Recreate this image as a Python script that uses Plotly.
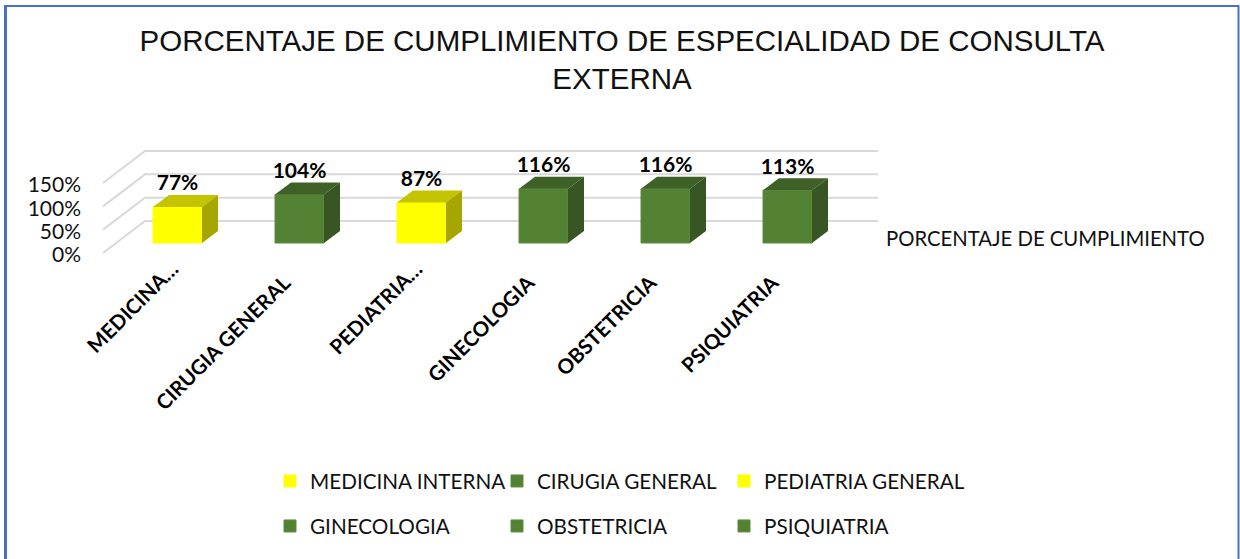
import plotly.graph_objects as go

categories = ["MEDICINA INTERNA", "CIRUGIA GENERAL", "PEDIATRIA GENERAL", "GINECOLOGIA", "OBSTETRICIA", "PSIQUIATRIA"]
tick_labels = ["MEDICINA…", "CIRUGIA GENERAL", "PEDIATRIA…", "GINECOLOGIA", "OBSTETRICIA", "PSIQUIATRIA"]
values = [77, 104, 87, 116, 116, 113]
front_colors = ["#FFFF00", "#548235", "#FFFF00", "#548235", "#548235", "#548235"]
top_colors = ["#C4C400", "#3F6128", "#C4C400", "#3F6128", "#3F6128", "#3F6128"]
side_colors = ["#A6A600", "#375623", "#A6A600", "#375623", "#375623", "#375623"]
edge_colors = ["#FFFF00", "#5B8C3A", "#FFFF00", "#5B8C3A", "#5B8C3A", "#5B8C3A"]
grid_values = [0, 50, 100, 150]
grid_labels = ["0%", "50%", "100%", "150%"]
value_lbl = [f"{v}%" for v in values]
truncated = [0, 2]                # ticks whose label was shortened with an ellipsis
full = [1, 3, 4, 5]

W, H = 1240, 559
# plot-area pixel frame
PL, PR, PT, PB = 82, 890, 130, 262
SLOT = 122.0            # px per category
PXV = 70 / 150          # px per percent
X0_PX = 177.5           # pixel of category 0
Y0_PX = 243.0           # pixel of 0 %
xr = [(PL - X0_PX) / SLOT, (PR - X0_PX) / SLOT]
yr = [(Y0_PX - PB) / PXV, (Y0_PX - PT) / PXV]
bar_w = 49 / SLOT
ddx, ddy = 16 / SLOT, 12 / PXV           # bar depth
wall_left = (103 - X0_PX) / SLOT
wall_back = (145 - X0_PX) / SLOT
wall_right = (878 - X0_PX) / SLOT
front_y = -10 / PXV
back_y = 22 / PXV

fig = go.Figure()


def px_x(p):
    return (p - PL) / (PR - PL)


def px_y(p):
    return (PB - p) / (PB - PT)


shapes = []
for g in grid_values:
    path = f"M {wall_left},{g + front_y} L {wall_back},{g + back_y} L {wall_right},{g + back_y}"
    shapes.append(dict(type="path", path=path, xref="x", yref="y", layer="below",
                       line=dict(color="#D9D9D9", width=2)))
# outer frame: left, top, right edges
for x0, y0, x1, y1, lw in [(5.5, 5, 5.5, 559, 3), (4, 6, 1239, 6, 2), (1238.5, 5, 1238.5, 559, 2)]:
    shapes.append(dict(type="line", xref="paper", yref="paper", x0=px_x(x0), x1=px_x(x1),
                       y0=px_y(y0), y1=px_y(y1), layer="below", line=dict(color="#4472C4", width=lw)))

legend_ids = ["legend", "legend2", "legend3", "legend4", "legend5", "legend6"]
legend_x = [270, 497, 724, 270, 497, 724]
legend_y = [481, 481, 481, 526, 526, 526]
for i, (c, v) in enumerate(zip(categories, values)):
    fig.add_trace(go.Bar(x=[i], y=[v], width=bar_w, name=c, legend=legend_ids[i],
                         marker=dict(color=front_colors[i], line=dict(color=edge_colors[i], width=1)),
                         showlegend=True, hoverinfo="name+y"))

for i, v in enumerate(values):
    l, r = i - bar_w / 2, i + bar_w / 2
    fig.add_trace(go.Scatter(x=[l, r, r + ddx, l + ddx, l], y=[v, v, v + ddy, v + ddy, v],
                             fill="toself", fillcolor=top_colors[i], mode="lines", line=dict(width=0),
                             showlegend=False, hoverinfo="skip"))
    fig.add_trace(go.Scatter(x=[r, r + ddx, r + ddx, r, r], y=[0, ddy, v + ddy, v, 0],
                             fill="toself", fillcolor=side_colors[i], mode="lines", line=dict(width=0),
                             showlegend=False, hoverinfo="skip"))

# value labels live on the second x axis, which carries the full-length tick labels
fig.add_trace(go.Scatter(x=list(range(len(values))), y=[v + ddy - 1.3 for v in values], mode="text",
                         xaxis="x2", yaxis="y",
                         text=value_lbl, textposition="top center",
                         textfont=dict(family="Lato, Carlito, sans-serif", size=21, color="#000000", weight="bold"),
                         showlegend=False, hoverinfo="skip"))

lf = dict(family="Lato, Carlito, sans-serif", size=20.7, color="#111111")
tf = dict(family="Lato, Carlito, sans-serif", size=20.5, color="#000000", weight="bold")
layout_legends = {
    lid: dict(orientation="h", x=lx / W, xref="container", y=1 - ly / H, yref="container", yanchor="middle",
              font=lf, bgcolor="rgba(0,0,0,0)")
    for lid, lx, ly in zip(legend_ids, legend_x, legend_y)
}
fig.update_layout(
    width=W, height=H, autosize=False,
    margin=dict(l=PL, r=W - PR, t=PT, b=H - PB),
    paper_bgcolor="white", plot_bgcolor="rgba(0,0,0,0)",
    barmode="overlay",
    shapes=shapes,
    title=dict(text="PORCENTAJE DE CUMPLIMIENTO DE ESPECIALIDAD DE CONSULTA<br>EXTERNA",
               x=622 / W, xanchor="center", y=1 - 51 / H, yanchor="middle",
               font=dict(family="Liberation Sans, Arial, sans-serif", size=29.5, color="#111111")),
    xaxis=dict(range=xr, tickmode="array", tickvals=truncated, ticktext=[tick_labels[i] for i in truncated],
               tickangle=-45, showgrid=False, zeroline=False, showline=False, ticks="",
               ticklabelshift=-5, ticklabelstandoff=-10, tickfont=tf),
    xaxis2=dict(range=xr, overlaying="x", side="bottom", anchor="y", tickmode="array", tickvals=full,
                ticktext=[tick_labels[i] for i in full], tickangle=-45, showgrid=False, zeroline=False,
                showline=False, ticks="", ticklabelshift=-15, ticklabelstandoff=4, tickfont=tf),
    yaxis=dict(range=yr, tickmode="array", tickvals=[g + front_y for g in grid_values], ticktext=grid_labels,
               showgrid=False, zeroline=False, showline=False, ticks="", ticklabelshift=2,
               tickfont=dict(family="Lato, Carlito, sans-serif", size=21, color="#111111")),
    annotations=[dict(text="PORCENTAJE DE CUMPLIMIENTO", xref="paper", yref="paper", showarrow=False,
                      x=px_x(884), y=px_y(238), xanchor="left", yanchor="middle",
                      font=dict(family="Lato, Carlito, sans-serif", size=20.3, color="#111111"))],
    **layout_legends,
)
fig.write_html("out.html", post_script="document.body.style.margin='0';", config=dict(displayModeBar=False))
